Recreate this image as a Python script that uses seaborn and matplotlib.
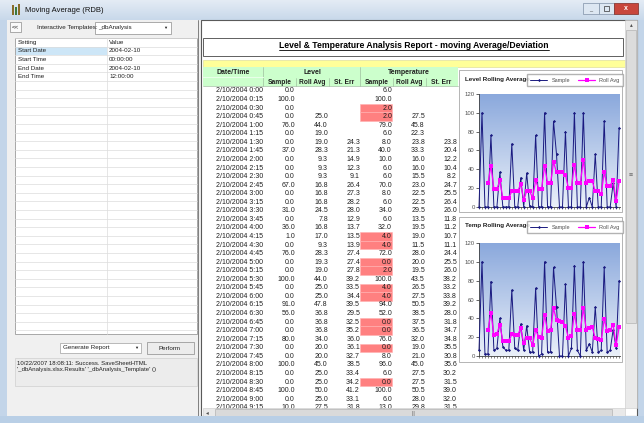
import numpy as np
import pandas as pd
import matplotlib.pyplot as plt
import matplotlib.patches as mpatches
from matplotlib.colors import LinearSegmentedColormap
import seaborn as sns

nan = np.nan

# ---- data ----
times = ["0:00", "0:15", "0:30", "0:45", "1:00", "1:15", "1:30", "1:45", "2:00", "2:15",
         "2:30", "2:45", "3:00", "3:15", "3:30", "3:45", "4:00", "4:15", "4:30", "4:45",
         "5:00", "5:15", "5:30", "5:45", "6:00", "6:15", "6:30", "6:45", "7:00", "7:15",
         "7:30", "7:45", "8:00", "8:15", "8:30", "8:45", "9:00", "9:15", "9:30", "9:45",
         "10:00", "10:15", "10:30", "10:45", "11:00", "11:15", "11:30", "11:45"]

level_sample = [0, 100, 0, 0, 76, 0, 0, 37, 0, 0, 0, 67, 0, 0, 31, 0, 36, 1, 0, 76,
                0, 0, 100, 0, 0, 91, 56, 0, 0, 80, 0, 0, 100, 0, 0, 100, 0, 10,
                0, 56, 0, 0, 91, 0, 0, 25, 0, 84]
level_roll = [nan, nan, nan, 25.0, 44.0, 19.0, 19.0, 28.3, 9.3, 9.3, 9.3, 16.8, 16.8, 16.8,
              24.5, 7.8, 16.8, 17.0, 9.3, 28.3, 19.3, 19.0, 44.0, 25.0, 25.0, 47.8, 36.8,
              36.8, 36.8, 34.0, 20.0, 20.0, 45.0, 25.0, 25.0, 50.0, 25.0, 27.5,
              27.5, 16.5, 16.5, 14.0, 36.8, 22.8, 22.8, 29.0, 6.3, 27.3]
level_err = [nan, nan, nan, nan, nan, nan, 24.3, 21.3, 14.9, 12.3, 9.1, 26.4, 27.3, 28.2,
             28.0, 12.9, 13.7, 13.5, 13.9, 27.4, 27.4, 27.8, 39.2, 33.5, 34.4, 39.5, 29.5,
             32.5, 35.2, 36.0, 36.1, 32.7, 38.5, 33.4, 34.2, 41.2, 33.1, 31.8]

temp_sample = [6, 100, 2, 2, 79, 6, 8, 40, 10, 6, 6, 70, 8, 6, 34, 6, 32, 4, 4, 72,
               0, 2, 100, 4, 4, 94, 52, 0, 0, 76, 0, 8, 96, 6, 0, 100, 6, 13,
               4, 52, 4, 6, 94, 4, 6, 28, 8, 80]
temp_roll = [nan, nan, nan, 27.5, 45.8, 22.3, 23.8, 33.3, 16.0, 16.0, 15.5, 23.0, 22.5, 22.5,
             29.5, 13.5, 19.5, 19.0, 11.5, 28.0, 20.0, 19.5, 43.5, 26.5, 27.5, 50.5, 38.5,
             37.5, 36.5, 32.0, 19.0, 21.0, 45.0, 27.5, 27.5, 50.5, 28.0, 29.8,
             30.8, 18.8, 18.3, 16.5, 39.0, 27.0, 27.5, 33.0, 11.5, 30.5]
temp_err = [nan, nan, nan, nan, nan, nan, 23.8, 20.4, 12.2, 10.4, 8.2, 24.7, 25.5, 26.4,
            26.0, 11.8, 11.2, 10.7, 11.1, 24.4, 25.5, 26.0, 38.2, 33.2, 33.8, 39.2, 28.0,
            31.8, 34.7, 34.8, 35.5, 30.8, 35.6, 30.2, 31.5, 39.0, 32.0, 31.5]

settings = ["Setting", "Start Date", "Start Time", "End Date", "End Time"]
values = ["Value", "2004-02-10", "00:00:00", "2004-02-10", "12:00:00"]

df = pd.DataFrame({"idx": range(len(times)), "time": times,
                   "level_sample": level_sample, "level_roll": level_roll,
                   "temp_sample": temp_sample, "temp_roll": temp_roll})

sns.set_style("white")
plt.rcParams["font.family"] = ["Liberation Sans", "DejaVu Sans"]

W, H = 644, 423
fig = plt.figure(figsize=(6.44, 4.23), dpi=100)
bg = fig.add_axes([0, 0, 1, 1])
bg.set_xlim(0, W)
bg.set_ylim(H, 0)
bg.axis("off")


def box(x0, y0, x1, y1, fc, ec="none", lw=0.6, z=1):
    bg.add_patch(mpatches.Rectangle((x0, y0), x1 - x0, y1 - y0, facecolor=fc,
                                    edgecolor=ec, linewidth=lw, zorder=z))


def txt(x, y, s, size=5, ha="left", color="#202020", weight="normal", z=5):
    return bg.text(x, y, s, fontsize=size, ha=ha, va="center", color=color,
                   fontweight=weight, zorder=z)


def px_axes(x0, y0, x1, y1):
    return fig.add_axes([x0 / W, 1 - y1 / H, (x1 - x0) / W, (y1 - y0) / H])


# window frame
box(0, 0, W, H, "#c3d5e9", z=0)
grad = np.linspace(0, 1, 50).reshape(-1, 1)
bg.imshow(grad, extent=(0, W, 20, 0), cmap=LinearSegmentedColormap.from_list(
    "tb", ["#e4ecf5", "#c8d8ea"]), aspect="auto", zorder=0.5)
box(12, 5, 14, 15, "#8a6d2a", z=2)
box(15, 7, 17, 15, "#3d7a3d", z=2)
box(18, 4, 20, 15, "#8a6d2a", z=2)
txt(25, 10, "Moving Average (RDB)", size=5.5, color="#101010")
box(583, 3, 599, 14, "#dde7f2", ec="#7f90a6", lw=0.5, z=2)
box(599, 3, 614, 14, "#dde7f2", ec="#7f90a6", lw=0.5, z=2)
box(614, 3, 638, 14, "#c8463c", ec="#7a2a24", lw=0.5, z=2)
txt(626, 8.5, "x", size=5, ha="center", color="white", weight="bold", z=3)
txt(591, 10, "_", size=4, ha="center", color="#333", z=3)
box(604, 6, 609, 11, "none", ec="#333", lw=0.5, z=3)

# client area
box(7, 20, 637, 416, "#f0f0f0", z=1)

# ---- left panel ----
box(10, 22, 21, 32, "#fafafa", ec="#8c8c8c", lw=0.5, z=2)
txt(15.5, 27, "<<", size=4.5, ha="center")
txt(37, 28, "Interactive Templates:", size=4.5)
box(95, 22, 171, 34, "white", ec="#8c8c8c", lw=0.5, z=2)
txt(98, 28, "_dbAnalysis", size=4.5)
txt(165, 28, "\u25BC", size=3, ha="center")

grid_top, row_h = 38, 8.6
box(15, grid_top, 197, 334, "white", ec="#9a9a9a", lw=0.6, z=2)
box(16, grid_top + row_h, 107, grid_top + 2 * row_h, "#cde6f7", z=2.5)
for k in range(35):
    yy = grid_top + k * row_h
    if yy > 334:
        break
    bg.plot([15, 197], [yy, yy], color="#dcdcdc", lw=0.5, zorder=3)
bg.plot([107, 107], [grid_top, 334], color="#dcdcdc", lw=0.5, zorder=3)
for k, (s, v) in enumerate(zip(settings, values)):
    yy = grid_top + (k + 0.5) * row_h
    txt(18, yy, s, size=4.5)
    txt(109, yy, v, size=4.5)

box(60, 343, 141, 353, "white", ec="#a0a0a0", lw=0.5, z=2)
txt(63, 348, "Generate Report", size=4.5)
txt(136, 348, "\u25BC", size=3, ha="center")
box(147, 342, 194, 354, "#ececec", ec="#8a8a8a", lw=0.5, z=2)
txt(170, 348, "Perform", size=4.5, ha="center")
box(15, 358, 197, 386, "#ececec", ec="#d0d0d0", lw=0.5, z=2)
txt(17, 363.5, "10/22/2007 18:08:11: Success. SaveSheetHTML", size=4.3)
txt(17, 370, "'_dbAnalysis.xlsx.Results' '_dbAnalysis_Template' ()", size=4.3)
bg.plot([198, 198], [20, 416], color="#6d6d6d", lw=0.6, zorder=3)

# ---- right panel ----
box(201, 20, 637, 416, "white", ec="#5a5a5a", lw=0.8, z=2)
box(203, 38, 623, 56, "white", ec="#606060", lw=0.7, z=3)
title = txt(414, 46, "Level & Temperature Analysis Report - moving Average/Deviation",
            size=6.2, ha="center", color="black", weight="bold")
fig.canvas.draw()
bb = title.get_window_extent().transformed(bg.transData.inverted())
bg.plot([bb.x0, bb.x1], [50.5, 50.5], color="black", lw=0.6, zorder=5)

box(203, 60, 625, 67, "#ffff99", ec="#d8d890", lw=0.4, z=3)
box(203, 67, 458, 86, "#ccffcc", z=3)
for xl in [263, 360]:
    bg.plot([xl, xl], [67, 86], color="#9fbf9f", lw=0.5, zorder=3.5)
for xl in [296, 329, 393, 426]:
    bg.plot([xl, xl], [78, 86], color="#9fbf9f", lw=0.5, zorder=3.5)
bg.plot([203, 263], [77, 77], color="#e8ffe8", lw=0.8, zorder=3.5)
bg.plot([203, 458], [86, 86], color="#9fbf9f", lw=0.5, zorder=3.5)
txt(233, 72.5, "Date/Time", size=5, ha="center", weight="bold")
txt(312, 73, "Level", size=5, ha="center", weight="bold")
txt(409, 73, "Temperature", size=5, ha="center", weight="bold")
for xc, lab in zip([280, 312, 344, 377, 409, 441],
                   ["Sample", "Roll Avg", "St. Err", "Sample", "Roll Avg", "St. Err"]):
    txt(xc, 82, lab, size=4.8, ha="center", weight="bold")

y0, dy = 91, 8.56
col_x = [263, 295, 328, 360, 392, 425, 457]
n_rows = len(level_err)
for i in range(n_rows):
    yy = y0 + i * dy
    if temp_sample[i] < 5:
        box(360.5, yy - dy / 2, 392.5, yy + dy / 2, "#ff8080", ec="#ffb0b0", lw=0.4, z=3)
    cells = ["2/10/2004 " + times[i], level_sample[i], level_roll[i], level_err[i],
             temp_sample[i], temp_roll[i], temp_err[i]]
    for xr, c in zip(col_x, cells):
        if isinstance(c, str):
            txt(xr, yy, c, size=5, ha="right")
        elif not np.isnan(c):
            txt(xr, yy, f"{c:.1f}", size=5, ha="right")

# scrollbars
box(203, 408, 625, 418, "#e9e9e9", ec="#c8c8c8", lw=0.4, z=6)
box(215, 409, 612, 417, "#dadada", ec="#a8a8a8", lw=0.4, z=6.5)
txt(207, 413, "\u25C2", size=4, ha="center", color="#505050", z=7)
txt(414, 413, "|||", size=3.5, ha="center", color="#606060", z=7)
box(625, 20, 637, 408, "#e9e9e9", ec="#c8c8c8", lw=0.4, z=6)
box(626, 30, 636, 323, "#dcdcdc", ec="#a8a8a8", lw=0.4, z=6.5)
txt(631, 24.5, "\u25B4", size=4, ha="center", color="#505050", z=7)
txt(631, 175, "\u2261", size=5, ha="center", color="#606060", z=7)
box(0, 416, W, H, "#b9cfe6", z=8)

# ---- charts ----
bg_cmap = LinearSegmentedColormap.from_list("plotbg", ["#eaf0f9", "#8aa8dc"])


def rolling_chart(frame, plot, title_text, sample_col, roll_col):
    fx0, fy0, fx1, fy1 = frame
    box(fx0, fy0, fx1, fy1, "white", ec="#a8a8a8", lw=0.6, z=9)
    txt(fx0 + 6, fy0 + 9, title_text, size=4.5, weight="bold", z=10)
    ax = px_axes(*plot)
    ax.imshow(np.linspace(0, 1, 100).reshape(-1, 1), cmap=bg_cmap, origin="lower",
              extent=(0, 47.3, 0, 120), aspect="auto", zorder=0)
    sns.lineplot(data=df, x="idx", y=sample_col, ax=ax, color="#1a1a80", lw=0.7,
                 marker="D", markersize=1.6, markeredgewidth=0, label="Sample",
                 zorder=3, clip_on=False)
    sns.lineplot(data=df, x="idx", y=roll_col, ax=ax, color="#ff00ff", lw=0.9,
                 marker="s", markersize=2.2, markeredgewidth=0, label="Roll Avg",
                 zorder=4, clip_on=False)
    ax.set_xlim(0, 47.3)
    ax.set_ylim(0, 120)
    ax.set_yticks(range(0, 121, 20))
    ax.set_xticks(df["idx"])
    ax.set_xticklabels([])
    ax.tick_params(axis="y", labelsize=4.3, labelcolor="#505050", length=2, width=0.5, pad=1)
    ax.tick_params(axis="x", length=1.5, width=0.4, bottom=True)
    ax.tick_params(axis="y", left=True)
    ax.set_xlabel("")
    ax.set_ylabel("")
    for side in ["top", "right"]:
        ax.spines[side].set_visible(False)
    for side in ["left", "bottom"]:
        ax.spines[side].set_color("#404040")
        ax.spines[side].set_linewidth(0.6)
    handles, labels = ax.get_legend_handles_labels()
    ax.legend(handles, labels, ncol=2, fontsize=4, frameon=True, fancybox=False,
              edgecolor="#a0a0a0", loc="center",
              bbox_to_anchor=((fx1 - 47) / W, 1 - (fy0 + 10) / H),
              bbox_transform=fig.transFigure, handlelength=3, columnspacing=1.5,
              borderpad=0.6, labelcolor="#505050")
    return ax


rolling_chart((459, 70, 622, 212), (479, 94, 620, 207), "Level Rolling Average",
              "level_sample", "level_roll")
rolling_chart((459, 217, 622, 362), (479, 243, 620, 356), "Temp Rolling Average",
              "temp_sample", "temp_roll")

fig.savefig("out.png", dpi=100)
